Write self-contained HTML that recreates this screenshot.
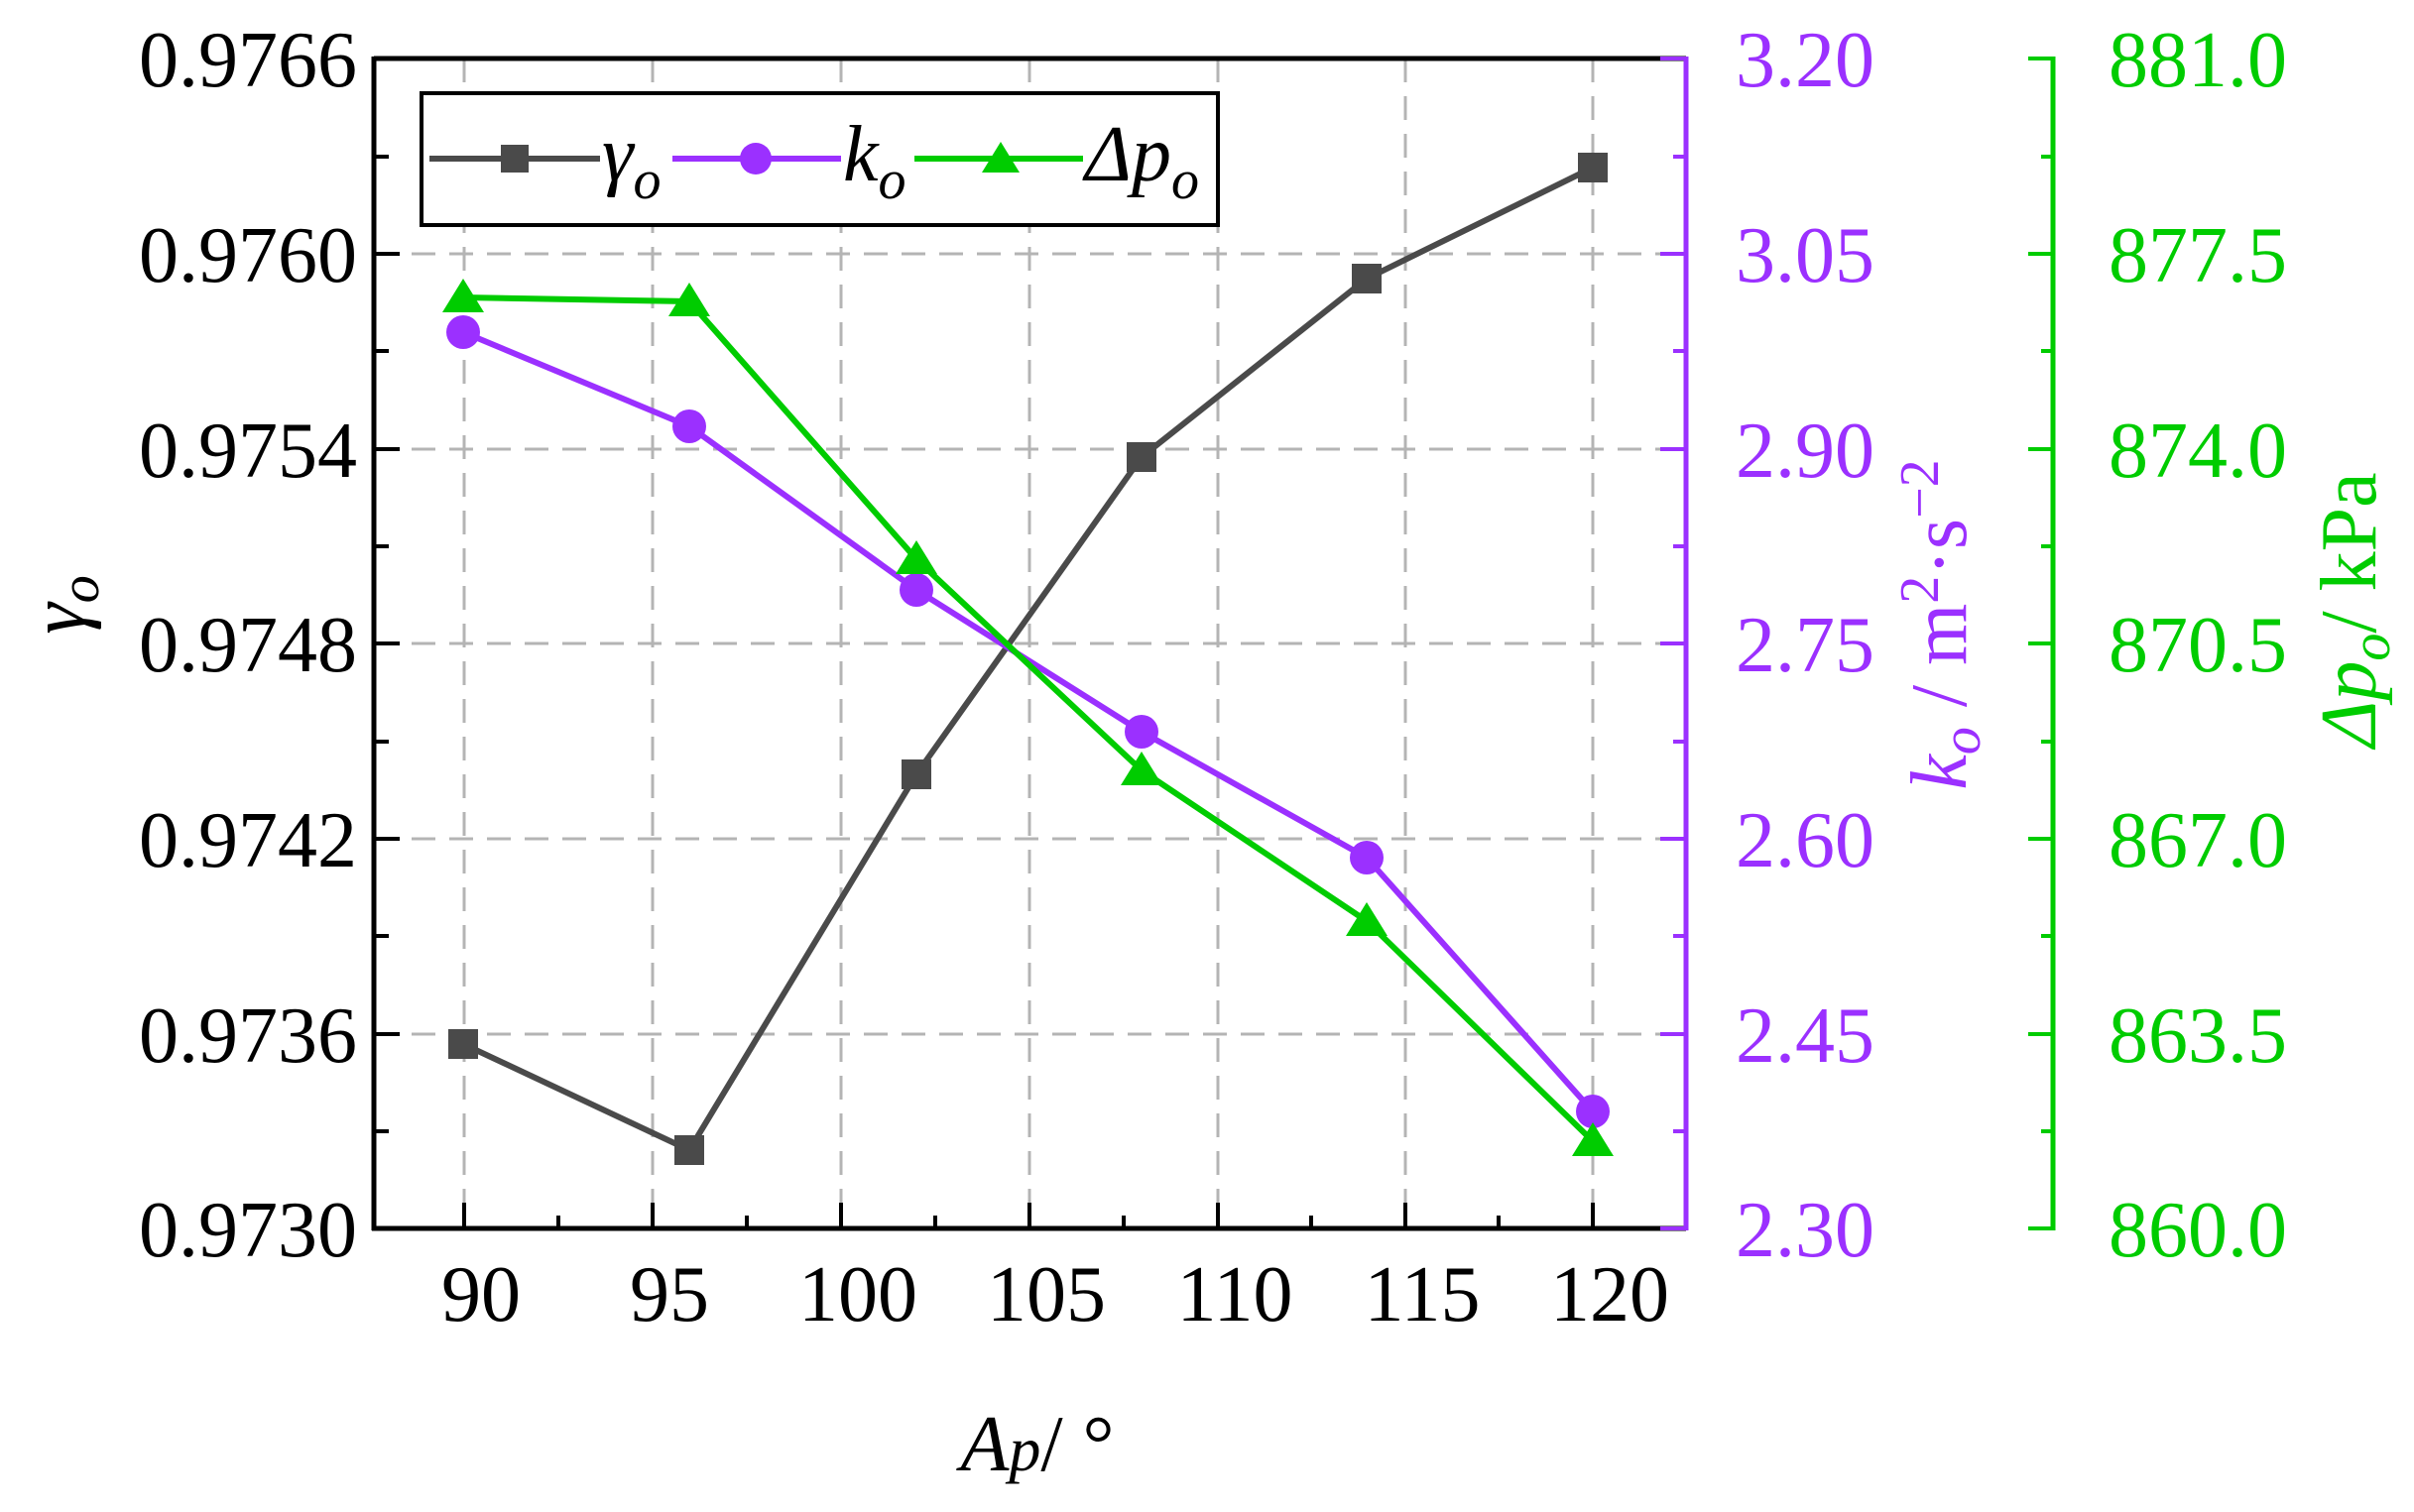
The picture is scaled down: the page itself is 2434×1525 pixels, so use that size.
<!DOCTYPE html>
<html><head><meta charset="utf-8"><style>html,body{margin:0;padding:0;background:#fff}svg{display:block}text{font-family:"Liberation Serif","Times New Roman",serif}</style></head>
<body>
<svg width="2434" height="1525" viewBox="0 0 2434 1525" xmlns="http://www.w3.org/2000/svg" style="font-family:'Liberation Serif',serif">
<rect width="2434" height="1525" fill="#fff"/>
<g stroke="#b4b4b4" stroke-width="3" stroke-dasharray="24,14" fill="none">
<line x1="468" y1="59" x2="468" y2="1239"/>
<line x1="658" y1="59" x2="658" y2="1239"/>
<line x1="848" y1="59" x2="848" y2="1239"/>
<line x1="1038" y1="59" x2="1038" y2="1239"/>
<line x1="1228" y1="59" x2="1228" y2="1239"/>
<line x1="1417" y1="59" x2="1417" y2="1239"/>
<line x1="1606" y1="59" x2="1606" y2="1239"/>
<line x1="377" y1="256" x2="1700" y2="256"/>
<line x1="377" y1="453" x2="1700" y2="453"/>
<line x1="377" y1="649" x2="1700" y2="649"/>
<line x1="377" y1="846" x2="1700" y2="846"/>
<line x1="377" y1="1043" x2="1700" y2="1043"/>
</g>
<g stroke="#000" stroke-width="5" fill="none">
<line x1="377" y1="59" x2="1700" y2="59"/>
<line x1="377" y1="57" x2="377" y2="1241"/>
<line x1="375" y1="1239" x2="1700" y2="1239"/>
</g>
<g stroke="#000" stroke-width="4">
<line x1="377" y1="158" x2="392" y2="158"/><line x1="377" y1="256" x2="403" y2="256"/>
<line x1="377" y1="354" x2="392" y2="354"/><line x1="377" y1="453" x2="403" y2="453"/>
<line x1="377" y1="551" x2="392" y2="551"/><line x1="377" y1="649" x2="403" y2="649"/>
<line x1="377" y1="748" x2="392" y2="748"/><line x1="377" y1="846" x2="403" y2="846"/>
<line x1="377" y1="944" x2="392" y2="944"/><line x1="377" y1="1043" x2="403" y2="1043"/>
<line x1="377" y1="1141" x2="392" y2="1141"/>
<line x1="468" y1="1239" x2="468" y2="1213"/><line x1="563" y1="1239" x2="563" y2="1226"/>
<line x1="658" y1="1239" x2="658" y2="1213"/><line x1="753" y1="1239" x2="753" y2="1226"/>
<line x1="848" y1="1239" x2="848" y2="1213"/><line x1="943" y1="1239" x2="943" y2="1226"/>
<line x1="1038" y1="1239" x2="1038" y2="1213"/><line x1="1133" y1="1239" x2="1133" y2="1226"/>
<line x1="1228" y1="1239" x2="1228" y2="1213"/><line x1="1322" y1="1239" x2="1322" y2="1226"/>
<line x1="1417" y1="1239" x2="1417" y2="1213"/><line x1="1511" y1="1239" x2="1511" y2="1226"/>
<line x1="1606" y1="1239" x2="1606" y2="1213"/>
</g>
<g stroke="#9b30ff" stroke-width="4">
<line x1="1700" y1="57" x2="1700" y2="1241" stroke-width="5"/>
<line x1="1674" y1="59" x2="1700" y2="59"/><line x1="1687" y1="158" x2="1700" y2="158"/>
<line x1="1674" y1="256" x2="1700" y2="256"/><line x1="1687" y1="354" x2="1700" y2="354"/>
<line x1="1674" y1="453" x2="1700" y2="453"/><line x1="1687" y1="551" x2="1700" y2="551"/>
<line x1="1674" y1="649" x2="1700" y2="649"/><line x1="1687" y1="748" x2="1700" y2="748"/>
<line x1="1674" y1="846" x2="1700" y2="846"/><line x1="1687" y1="944" x2="1700" y2="944"/>
<line x1="1674" y1="1043" x2="1700" y2="1043"/><line x1="1687" y1="1141" x2="1700" y2="1141"/>
<line x1="1674" y1="1239" x2="1700" y2="1239"/>
</g>
<g stroke="#00cc00" stroke-width="4">
<line x1="2070" y1="57" x2="2070" y2="1241" stroke-width="5"/>
<line x1="2045" y1="59" x2="2070" y2="59"/><line x1="2058" y1="158" x2="2070" y2="158"/>
<line x1="2045" y1="256" x2="2070" y2="256"/><line x1="2058" y1="354" x2="2070" y2="354"/>
<line x1="2045" y1="453" x2="2070" y2="453"/><line x1="2058" y1="551" x2="2070" y2="551"/>
<line x1="2045" y1="649" x2="2070" y2="649"/><line x1="2058" y1="748" x2="2070" y2="748"/>
<line x1="2045" y1="846" x2="2070" y2="846"/><line x1="2058" y1="944" x2="2070" y2="944"/>
<line x1="2045" y1="1043" x2="2070" y2="1043"/><line x1="2058" y1="1141" x2="2070" y2="1141"/>
<line x1="2045" y1="1239" x2="2070" y2="1239"/>
</g>
<g font-size="80" text-anchor="end" fill="#000">
<text x="360" y="87">0.9766</text><text x="360" y="284">0.9760</text>
<text x="360" y="481">0.9754</text><text x="360" y="677">0.9748</text>
<text x="360" y="874">0.9742</text><text x="360" y="1071">0.9736</text>
<text x="360" y="1267">0.9730</text>
</g>
<g font-size="80" text-anchor="middle" fill="#000">
<text x="485" y="1332">90</text><text x="675" y="1332">95</text><text x="865" y="1332">100</text>
<text x="1055" y="1332">105</text><text x="1245" y="1332">110</text><text x="1434" y="1332">115</text><text x="1623" y="1332">120</text>
</g>
<g font-size="80" fill="#9b30ff">
<text x="1750" y="87">3.20</text><text x="1750" y="284">3.05</text><text x="1750" y="481">2.90</text>
<text x="1750" y="677">2.75</text><text x="1750" y="874">2.60</text><text x="1750" y="1071">2.45</text><text x="1750" y="1267">2.30</text>
</g>
<g font-size="80" fill="#00cc00">
<text x="2126" y="87">881.0</text><text x="2126" y="284">877.5</text><text x="2126" y="481">874.0</text>
<text x="2126" y="677">870.5</text><text x="2126" y="874">867.0</text><text x="2126" y="1071">863.5</text><text x="2126" y="1267">860.0</text>
</g>
<text transform="translate(85,610) rotate(-90)" font-size="80" font-style="italic" text-anchor="middle">γ<tspan font-size="56" dy="14">o</tspan></text>
<text transform="translate(1982,630) rotate(-90)" font-size="80" fill="#9b30ff" text-anchor="middle"><tspan font-style="italic">k</tspan><tspan font-style="italic" font-size="56" dy="14">o</tspan><tspan dy="-14"> / m</tspan><tspan font-size="56" dy="-28">2</tspan><tspan dy="28">·s</tspan><tspan font-size="56" dy="-28">−2</tspan></text>
<text transform="translate(2395,615) rotate(-90)" font-size="80" fill="#00cc00" text-anchor="middle"><tspan font-style="italic">Δp</tspan><tspan font-style="italic" font-size="56" dy="14">o</tspan><tspan dy="-14">/ kPa</tspan></text>
<text x="1046" y="1483" font-size="80" text-anchor="middle" font-style="italic">A<tspan font-size="64">p</tspan><tspan font-style="normal">/ °</tspan></text>
<polyline fill="none" stroke="#4a4a4a" stroke-width="6" points="467,1053 695,1160 924,781 1151,461 1378,281 1606,169"/>
<g fill="#4a4a4a">
<rect x="452" y="1038" width="30" height="30"/><rect x="680" y="1145" width="30" height="30"/>
<rect x="909" y="766" width="30" height="30"/><rect x="1136" y="446" width="30" height="30"/>
<rect x="1363" y="266" width="30" height="30"/><rect x="1591" y="154" width="30" height="30"/>
</g>
<polyline fill="none" stroke="#9b30ff" stroke-width="6" points="467,335 695,430 924,595 1151,738 1378,865 1606,1121"/>
<g fill="#9b30ff">
<circle cx="467" cy="335" r="17"/><circle cx="695" cy="430" r="17"/><circle cx="924" cy="595" r="17"/>
<circle cx="1151" cy="738" r="17"/><circle cx="1378" cy="865" r="17"/><circle cx="1606" cy="1121" r="17"/>
</g>
<polyline fill="none" stroke="#00cc00" stroke-width="6" points="467,300 695,304 924,564 1151,777 1378,929 1606,1151"/>
<g fill="#00cc00">
<polygon points="467,281 488,315 446,315"/><polygon points="695,285 716,319 674,319"/>
<polygon points="924,545 945,579 903,579"/><polygon points="1151,758 1172,792 1130,792"/>
<polygon points="1378,910 1399,944 1357,944"/><polygon points="1606,1132 1627,1166 1585,1166"/>
</g>
<rect x="425" y="94" width="803" height="133" fill="#fff" stroke="#000" stroke-width="4"/>
<line x1="433" y1="160" x2="605" y2="160" stroke="#4a4a4a" stroke-width="6"/>
<rect x="505" y="146" width="28" height="28" fill="#4a4a4a"/>
<text x="607" y="182" font-size="80" font-style="italic">γ<tspan font-size="56" dy="18">o</tspan></text>
<line x1="678" y1="160" x2="848" y2="160" stroke="#9b30ff" stroke-width="6"/>
<circle cx="762" cy="160" r="16" fill="#9b30ff"/>
<text x="850" y="182" font-size="80" font-style="italic">k<tspan font-size="56" dy="18">o</tspan></text>
<line x1="922" y1="160" x2="1092" y2="160" stroke="#00cc00" stroke-width="6"/>
<polygon points="1009,143 1028,174 990,174" fill="#00cc00"/>
<text x="1094" y="182" font-size="80" font-style="italic">Δp<tspan font-size="56" dy="18">o</tspan></text>
</svg>
</body></html>
